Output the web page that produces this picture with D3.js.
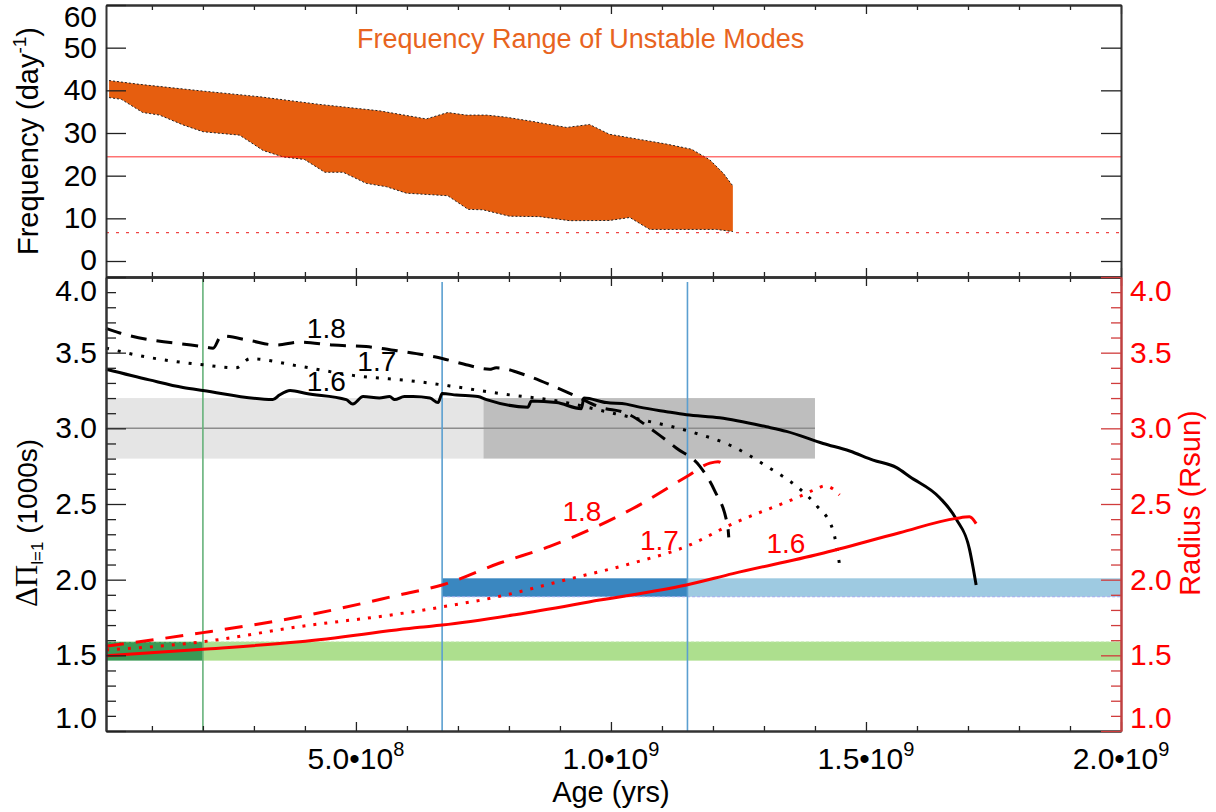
<!DOCTYPE html>
<html>
<head>
<meta charset="utf-8">
<script src="https://cdn.jsdelivr.net/npm/d3@7"></script>
<style>
body { margin: 0; background: #fff; }
svg { font-family: "Liberation Sans", Arial, sans-serif; }
</style>
</head>
<body>
<script>
// ages are in units of 1e8 yr
const ageMajor = [5, 10, 15, 20];
const ageMant = ["5.0", "1.0", "1.5", "2.0"];
const ageExp = ["8", "9", "9", "9"];

// top panel: frequency range of unstable modes (day^-1)
const freqUpper = [[0.16,42.3],[0.76,41.4],[1.94,39.9],[3.11,38.5],[4.29,36.7],[5.46,35.2],[6.38,33.3],[6.80,34.8],[7.16,34.2],[7.56,34.2],[7.95,33.7],[8.47,32.7],[9.13,31.3],[9.58,32.0],[9.97,29.7],[10.56,28.5],[11.09,27.4],[11.58,26.2],[11.94,23.7],[12.20,20.6],[12.39,17.6]];
const freqLower = [[0.16,38.3],[0.40,37.9],[0.82,34.8],[1.15,34.2],[1.61,31.9],[2.0,30.3],[2.72,29.5],[3.18,25.9],[3.57,24.4],[3.99,23.8],[4.39,20.8],[4.75,20.8],[5.20,18.2],[5.60,17.4],[5.99,15.9],[6.25,15.7],[6.80,15.3],[7.20,12.1],[7.49,12.0],[8.01,10.5],[8.60,10.4],[9.19,9.45],[9.97,9.5],[10.37,10.2],[10.76,7.4],[12.07,7.4],[12.39,6.9]];
const freqObsHigh = 24.45;
const freqObsLow = 6.63;

// bottom panel: period spacing (1000 s), per mass
const dpi16 = [[0.1,3.39],[0.95,3.32],[1.61,3.27],[2.0,3.25],[3.37,3.19],[3.50,3.22],[3.71,3.25],[4.03,3.23],[4.81,3.19],[4.94,3.16],[5.14,3.21],[5.46,3.20],[5.66,3.21],[5.76,3.19],[5.95,3.21],[6.12,3.21],[6.45,3.20],[6.61,3.17],[6.69,3.23],[6.97,3.22],[7.39,3.21],[7.56,3.19],[8.37,3.14],[8.44,3.18],[8.93,3.17],[9.42,3.13],[9.47,3.20],[9.91,3.17],[10.30,3.16],[10.56,3.14],[11.09,3.11],[11.48,3.09],[12.13,3.07],[13.05,3.01],[13.44,2.98],[14.16,2.90],[14.68,2.85],[15.14,2.79],[15.60,2.74],[15.86,2.68],[16.45,2.54],[16.77,2.40],[17.03,2.20],[17.10,2.08],[17.16,1.965]];
const dpi17 = [[0.1,3.53],[0.76,3.48],[2.0,3.42],[2.65,3.40],[2.92,3.46],[3.90,3.41],[4.94,3.35],[6.18,3.31],[6.84,3.28],[7.82,3.23],[9.13,3.17],[9.78,3.12],[10.56,3.06],[11.54,2.98],[12.39,2.88],[13.05,2.75],[13.70,2.60],[14.03,2.49],[14.35,2.33],[14.50,2.06]];
const dpi18 = [[0.1,3.66],[0.37,3.63],[2.0,3.54],[2.2,3.53],[2.36,3.61],[2.92,3.58],[3.44,3.55],[3.90,3.57],[4.55,3.55],[5.20,3.54],[5.86,3.51],[6.71,3.46],[7.16,3.42],[7.62,3.39],[7.75,3.40],[8.34,3.35],[8.86,3.28],[9.39,3.20],[9.78,3.14],[10.30,3.10],[10.89,2.97],[11.28,2.87],[11.74,2.75],[12.03,2.59],[12.29,2.35],[12.31,2.28]];

// radius (Rsun), per mass
const rad16 = [[0.1,1.497],[2.0,1.54],[3.90,1.59],[6.25,1.685],[6.69,1.70],[8.15,1.77],[9.78,1.865],[11.48,1.965],[12.39,2.04],[14.09,2.17],[15.66,2.31],[16.77,2.405],[17.03,2.415],[17.16,2.37]];
const rad17 = [[0.1,1.535],[2.0,1.59],[3.90,1.69],[5.86,1.775],[6.69,1.82],[7.82,1.89],[9.13,2.00],[10.43,2.11],[11.48,2.22],[12.39,2.37],[13.70,2.55],[14.03,2.60],[14.19,2.62],[14.35,2.60],[14.48,2.56]];
const rad18 = [[0.1,1.56],[2.0,1.65],[3.90,1.755],[5.86,1.90],[6.69,1.965],[7.82,2.11],[8.80,2.22],[9.78,2.36],[10.43,2.47],[11.48,2.68],[11.94,2.77],[12.10,2.78],[12.30,2.72]];

// observational constraints
const dpiBand = [2.8, 3.2];
const dpiBandAges = [0.1, 7.5, 14.0];
const dpiObs = 3.0;
const radBlue = [1.887, 2.009];
const radBlueAges = [6.69, 11.5, 20];
const radGreen = [1.465, 1.59];
const radGreenAges = [0.1, 2.0, 20];
const greenAge = 2.0;
const blueAges = [6.69, 11.5];

// curve labels [age, value, text]
const blackLabels = [[4.42,3.66,"1.8"],[5.41,3.44,"1.7"],[4.42,3.31,"1.6"]];
const redLabels = [[9.43,2.45,"1.8"],[10.95,2.26,"1.7"],[13.43,2.24,"1.6"]];

const W = 1216, H = 812;
const L = 106, R = 1121, T1 = 5, B1 = 277, T2 = 277, B2 = 731;
const FS = 30;

const x = d3.scaleLinear().domain([0.1, 20]).range([L, R]);
const yF = d3.scaleLinear().domain([-3.75, 60]).range([B1, T1]);
const yD = d3.scaleLinear().domain([1, 4]).range([B2, T2]);
const yR = d3.scaleLinear().domain([1, 4]).range([B2, T2]);

const svg = d3.select("body").append("svg")
    .attr("width", W)
    .attr("height", H);

// ---------- top panel ----------
const poly = freqUpper.concat(freqLower.slice().reverse());
svg.append("path")
    .attr("d", d3.line().x(d => x(d[0])).y(d => yF(d[1]))(poly) + "Z")
    .attr("fill", "#e65e0f");
[freqUpper, freqLower].forEach(s => {
    svg.append("path")
        .attr("d", d3.line().x(d => x(d[0])).y(d => yF(d[1]))(s))
        .attr("fill", "none")
        .attr("stroke", "#222")
        .attr("stroke-width", 1)
        .attr("stroke-dasharray", "2,2");
});
svg.append("line")
    .attr("x1", L).attr("x2", R)
    .attr("y1", yF(freqObsHigh)).attr("y2", yF(freqObsHigh))
    .attr("stroke", "red").attr("stroke-opacity", 0.55).attr("stroke-width", 1.6);
svg.append("line")
    .attr("x1", L).attr("x2", R)
    .attr("y1", yF(freqObsLow)).attr("y2", yF(freqObsLow))
    .attr("stroke", "#f04545").attr("stroke-width", 1.3).attr("stroke-dasharray", "3,7");

svg.append("text")
    .attr("x", 357).attr("y", 48)
    .attr("font-size", 27)
    .attr("fill", "#e8641e")
    .text("Frequency Range of Unstable Modes");

// ---------- bottom panel ----------
function band(lim, ages, i, color) {
    svg.append("rect")
        .attr("x", x(ages[i])).attr("width", x(ages[i + 1]) - x(ages[i]))
        .attr("y", yD(lim[1])).attr("height", yD(lim[0]) - yD(lim[1]))
        .attr("fill", color);
}
band(dpiBand, dpiBandAges, 0, "#e5e5e5");
band(dpiBand, dpiBandAges, 1, "#bebebe");
svg.append("line")
    .attr("x1", L).attr("x2", x(dpiBandAges[2]))
    .attr("y1", yD(dpiObs)).attr("y2", yD(dpiObs))
    .attr("stroke", "#8c8c8c").attr("stroke-width", 1.5);

band(radBlue, radBlueAges, 0, "#3a87c0");
band(radBlue, radBlueAges, 1, "#9ecae1");
svg.append("line")
    .attr("x1", x(radBlueAges[0])).attr("x2", R)
    .attr("y1", yD(radBlue[0])).attr("y2", yD(radBlue[0]))
    .attr("stroke", "#a4a8f0").attr("stroke-width", 1).attr("stroke-dasharray", "3,2");
band(radGreen, radGreenAges, 0, "#3a9a55");
band(radGreen, radGreenAges, 1, "#addf8e");
svg.append("line")
    .attr("x1", L).attr("x2", R)
    .attr("y1", yD(radGreen[1])).attr("y2", yD(radGreen[1]))
    .attr("stroke", "#cdeec0").attr("stroke-width", 1).attr("stroke-dasharray", "3,2");

svg.append("line")
    .attr("x1", x(greenAge)).attr("x2", x(greenAge))
    .attr("y1", T2).attr("y2", B2)
    .attr("stroke", "#66b27a").attr("stroke-width", 1.6);
blueAges.forEach(a => {
    svg.append("line")
        .attr("x1", x(a)).attr("x2", x(a))
        .attr("y1", T2 + 5).attr("y2", B2)
        .attr("stroke", "#5b9fd0").attr("stroke-width", 1.6);
});

const lineD = d3.line().curve(d3.curveMonotoneX).x(d => x(d[0])).y(d => yD(d[1]));
const lineR = d3.line().curve(d3.curveMonotoneX).x(d => x(d[0])).y(d => yR(d[1]));
const curves = [
    [lineD, dpi16, "#000", null],
    [lineD, dpi17, "#000", "3,9"],
    [lineD, dpi18, "#000", "16,10"],
    [lineR, rad16, "red", null],
    [lineR, rad17, "red", "3,8"],
    [lineR, rad18, "red", "18,12"]
];
curves.forEach(c => {
    svg.append("path")
        .attr("d", c[0](c[1]))
        .attr("fill", "none")
        .attr("stroke", c[2])
        .attr("stroke-width", 3)
        .attr("stroke-dasharray", c[3]);
});

svg.selectAll(".blab").data(blackLabels).join("text")
    .attr("x", d => x(d[0])).attr("y", d => yD(d[1]))
    .attr("text-anchor", "middle").attr("dominant-baseline", "central")
    .attr("font-size", 28).attr("fill", "#000")
    .text(d => d[2]);
svg.selectAll(".rlab").data(redLabels).join("text")
    .attr("x", d => x(d[0])).attr("y", d => yR(d[1]))
    .attr("text-anchor", "middle").attr("dominant-baseline", "central")
    .attr("font-size", 28).attr("fill", "red")
    .text(d => d[2]);

// ---------- axes ----------
const minorAges = d3.range(1, 20).filter(v => v % 5 !== 0);

function xTicks(yPos, top) {
    const mk = top ? d3.axisTop : d3.axisBottom;
    [[minorAges, 5], [ageMajor, 9]].forEach(([vals, len]) => {
        const g = svg.append("g")
            .attr("transform", `translate(0,${yPos})`)
            .call(mk(x).tickValues(vals).tickSize(-len).tickSizeOuter(0).tickFormat(""));
        g.selectAll(".tick line").attr("stroke", "#222").attr("stroke-width", 1.3);
        g.select(".domain").attr("stroke", "#333").attr("stroke-width", 2);
    });
}
xTicks(T1, true);
xTicks(B1, false);
xTicks(T2, true);
xTicks(B2, false);

function clampLabels(g, scale, top, bottom) {
    g.selectAll(".tick text")
        .attr("y", d => Math.max(top, Math.min(bottom, scale(d))) - scale(d));
}

// top panel y
let g = svg.append("g").attr("transform", `translate(${L},0)`)
    .call(d3.axisLeft(yF).tickValues([0, 10, 20, 30, 40, 50, 60])
        .tickSize(-20).tickSizeOuter(0).tickPadding(9).tickFormat(d3.format("d")));
g.selectAll(".tick line").attr("stroke", "#222").attr("stroke-width", 1.3);
g.select(".domain").attr("stroke", "#333").attr("stroke-width", 2);
g.selectAll(".tick text").attr("font-size", FS).attr("fill", "#000")
    .attr("font-family", "Liberation Sans, Arial, sans-serif");
clampLabels(g, yF, T1 + 12, 260);

g = svg.append("g").attr("transform", `translate(${R},0)`)
    .call(d3.axisRight(yF).tickValues([0, 10, 20, 30, 40, 50])
        .tickSize(-20).tickSizeOuter(0).tickFormat(""));
g.selectAll(".tick line").attr("stroke", "#222").attr("stroke-width", 1.3);
g.select(".domain").attr("stroke", "#333").attr("stroke-width", 2);

// bottom panel y (left, black) and right (red)
const yMajor = [1, 1.5, 2, 2.5, 3, 3.5, 4];
const yMinor = d3.range(11, 40).filter(v => v % 5 !== 0).map(v => v / 10);

function yAxis(scale, right, tickColor, lineColor, textColor) {
    const mk = right ? d3.axisRight : d3.axisLeft;
    const xp = right ? R : L;
    const gm = svg.append("g").attr("transform", `translate(${xp},0)`)
        .call(mk(scale).tickValues(yMinor).tickSize(-10).tickSizeOuter(0).tickFormat(""));
    gm.selectAll(".tick line").attr("stroke", tickColor).attr("stroke-width", 1.3);
    gm.select(".domain").attr("stroke", lineColor).attr("stroke-width", 2);
    const gM = svg.append("g").attr("transform", `translate(${xp},0)`)
        .call(mk(scale).tickValues(yMajor).tickSize(-20).tickSizeOuter(0)
            .tickPadding(9).tickFormat(d3.format(".1f")));
    gM.selectAll(".tick line").attr("stroke", tickColor).attr("stroke-width", 1.3);
    gM.select(".domain").attr("stroke", lineColor).attr("stroke-width", 2);
    gM.selectAll(".tick text").attr("font-size", FS).attr("fill", textColor)
        .attr("font-family", "Liberation Sans, Arial, sans-serif");
    clampLabels(gM, scale, T2 + 14, B2 - 13);
}
yAxis(yD, false, "#222", "#333", "#000");
yAxis(yR, true, "#d03c3c", "#c04040", "red");

// x tick labels
ageMajor.forEach((v, i) => {
    const t = svg.append("text")
        .attr("x", x(v)).attr("y", 769)
        .attr("text-anchor", "middle")
        .attr("font-size", FS).attr("fill", "#000");
    t.append("tspan").text(ageMant[i] + "\u202210");
    t.append("tspan").attr("dy", -13).attr("font-size", 20).text(ageExp[i]);
});

svg.append("text")
    .attr("x", x(10)).attr("y", 802)
    .attr("text-anchor", "middle")
    .attr("font-size", 29).attr("fill", "#000")
    .text("Age (yrs)");

// y titles
let yt = svg.append("text")
    .attr("transform", `translate(38,${(T1 + B1) / 2}) rotate(-90)`)
    .attr("text-anchor", "middle")
    .attr("font-size", 29).attr("fill", "#000");
yt.append("tspan").text("Frequency (day");
yt.append("tspan").attr("dy", -12).attr("font-size", 19).text("-1");
yt.append("tspan").attr("dy", 12).text(")");

yt = svg.append("text")
    .attr("transform", `translate(37,523) rotate(-90)`)
    .attr("text-anchor", "middle")
    .attr("font-size", 28).attr("fill", "#000");
yt.append("tspan").attr("font-family", "Liberation Serif, Times New Roman, serif").attr("font-size", 31).text("\u0394\u03A0");
yt.append("tspan").attr("dy", 6).attr("font-size", 17).text("l=1");
yt.append("tspan").attr("dy", -6).text(" (1000s)");

svg.append("text")
    .attr("transform", `translate(1200,503) rotate(-90)`)
    .attr("text-anchor", "middle")
    .attr("font-size", 29).attr("fill", "red")
    .text("Radius (Rsun)");
</script>
</body>
</html>
